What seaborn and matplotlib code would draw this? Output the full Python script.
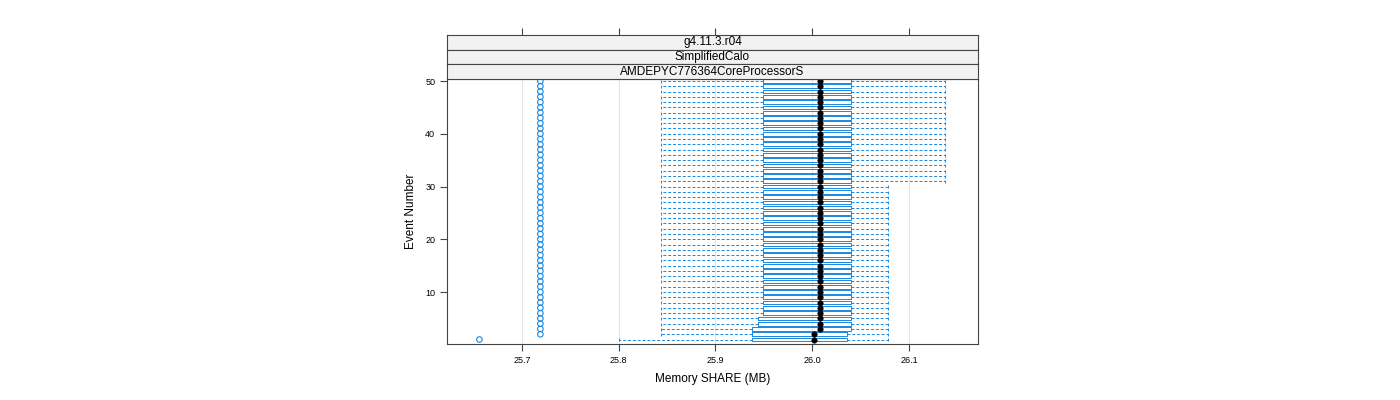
import numpy as np
import pandas as pd
import matplotlib
matplotlib.use("Agg")
import matplotlib.pyplot as plt
import seaborn as sns

events = list(range(1, 51))
whislo = [25.800] + [25.844] * 49
q1 = [25.938, 25.938, 25.938, 25.944, 25.944] + [25.949] * 45
med = [26.002, 26.002] + [26.008] * 48
q3 = [26.036, 26.036] + [26.040] * 48
whishi = [26.078] * 30 + [26.137] * 20
outliers = [[25.656]] + [[25.719]] * 49

strips = ["g4.11.3.r04", "SimplifiedCalo", "AMDEPYC776364CoreProcessorS"]
xticks = [25.7, 25.8, 25.9, 26.0, 26.1]
yticks = [10, 20, 30, 40, 50]
xlabel = "Memory SHARE (MB)"
ylabel = "Event Number"

blue = "#1a88e0"
sns.set_style("white")
plt.rcParams["font.family"] = "sans-serif"
plt.rcParams["font.sans-serif"] = ["Liberation Sans"]
plt.rcParams["text.color"] = "black"
plt.rcParams["axes.labelcolor"] = "black"
plt.rcParams["xtick.color"] = "black"
plt.rcParams["ytick.color"] = "black"

fig = plt.figure(figsize=(14, 4), dpi=100)
W, H = 1400, 400
x0, x1, y0, y1 = 447, 978, 79, 344
ax = fig.add_axes([x0 / W, 1 - y1 / H, (x1 - x0) / W, (y1 - y0) / H])

stats = [dict(whislo=a, q1=b, med=c, q3=d, whishi=e, fliers=[]) for a, b, c, d, e in
         zip(whislo, q1, med, q3, whishi)]
ax.bxp(stats, positions=events, vert=False, widths=0.7, showfliers=False,
       boxprops=dict(color=blue, lw=0.7),
       whiskerprops=dict(color=blue, lw=0.7, ls=(0, (3, 2))),
       capprops=dict(color=blue, lw=0.7, ls=(0, (3, 2))), capwidths=0.7,
       medianprops=dict(lw=0), manage_ticks=False)

mdf = pd.DataFrame({"x": med, "y": events})
sns.scatterplot(data=mdf, x="x", y="y", ax=ax, color="black", s=16, edgecolor="black", zorder=5)
odf = pd.DataFrame({"x": [o for ol in outliers for o in ol],
                    "y": [e for e, ol in zip(events, outliers) for _ in ol]})
sns.scatterplot(data=odf, x="x", y="y", ax=ax, facecolor="none", edgecolor=blue,
                s=16, linewidth=0.8, zorder=5)

for xt in xticks:
    ax.axvline(xt, color="#e6e6e6", lw=0.8, zorder=0)
ax.set_xlim(25.6225, 26.1713)
ax.set_ylim(0.15, 50.38)
ax.set_xticks(xticks)
ax.set_xticklabels([f"{v:.1f}" for v in xticks], fontsize=6.5)
ax.set_yticks(yticks)
ax.set_yticklabels([str(v) for v in yticks], fontsize=6.5)
ax.tick_params(direction="out", length=5, width=0.8, color="#444444", left=True, bottom=True)
ax.set_xlabel(xlabel, fontsize=8.5, labelpad=6)
ax.set_ylabel(ylabel, fontsize=8.5, labelpad=6)
for s in ax.spines.values():
    s.set_color("#444444"); s.set_linewidth(0.8)

sh = (y0 - 35) / 3
for i, txt in enumerate(strips):
    top = 35 + i * sh
    sa = fig.add_axes([x0 / W, 1 - (top + sh) / H, (x1 - x0) / W, sh / H])
    sa.set_facecolor("#f2f2f2")
    sa.set_xlim(ax.get_xlim())
    sa.text(0.5, 0.5, txt, transform=sa.transAxes, ha="center", va="center", fontsize=8.5)
    sa.set_yticks([])
    if i == 0:
        sa.set_xticks(xticks)
        sa.xaxis.tick_top()
        sa.tick_params(axis="x", direction="out", length=5, width=0.8, color="#444444", labeltop=False)
    else:
        sa.set_xticks([])
    for s in sa.spines.values():
        s.set_color("#444444"); s.set_linewidth(0.8)

fig.savefig("out.png", dpi=100)
